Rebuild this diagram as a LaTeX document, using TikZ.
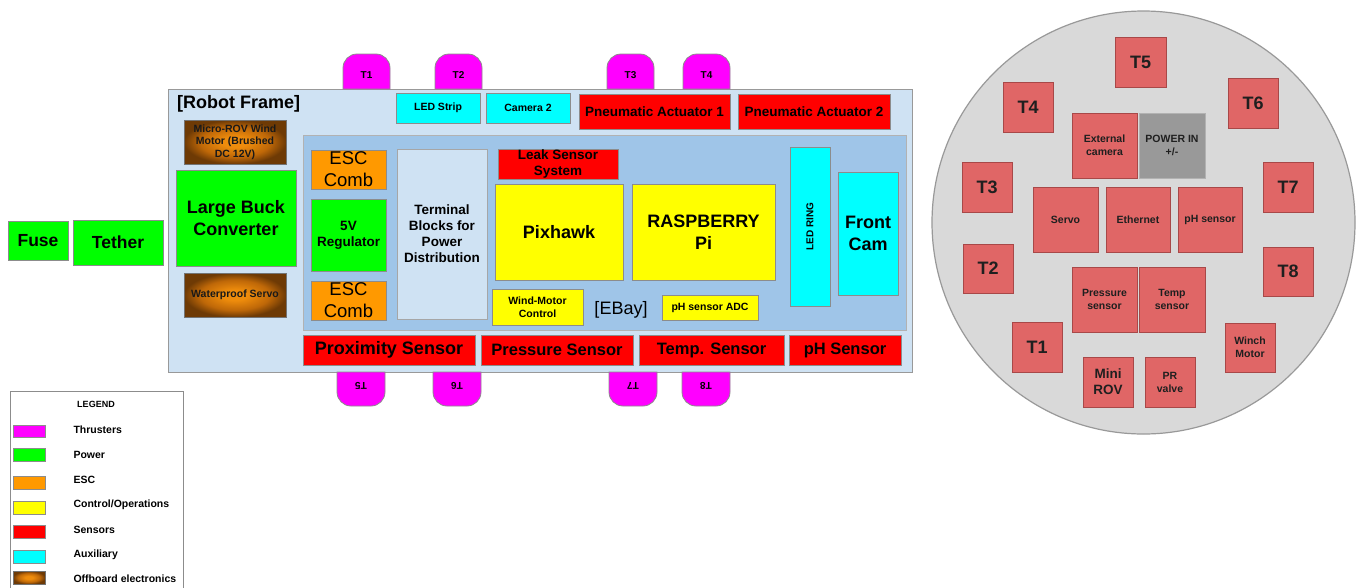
\documentclass[tikz,border=0pt]{standalone}
\usepackage{fontspec}
\setmainfont{Liberation Sans}
\usetikzlibrary{calc}
\definecolor{thrC}{HTML}{FF00FF}
\definecolor{powC}{HTML}{00FF00}
\definecolor{escC}{HTML}{FF9900}
\definecolor{ctlC}{HTML}{FFFF00}
\definecolor{senC}{HTML}{FF0000}
\definecolor{auxC}{HTML}{00FFFF}
\definecolor{frameC}{HTML}{CFE2F3}
\definecolor{ebayC}{HTML}{9FC5E8}
\definecolor{circC}{HTML}{D9D9D9}
\definecolor{sqC}{HTML}{E06666}
\definecolor{sqB}{HTML}{A84848}
\definecolor{pwrinC}{HTML}{999999}
\definecolor{brIn}{HTML}{EE8C0C}
\definecolor{brMid}{HTML}{BF6808}
\definecolor{brOut}{HTML}{6E3A05}
\pgfdeclareradialshading{offboard}{\pgfpoint{0bp}{0bp}}{color(0bp)=(brIn); color(6bp)=(brIn); color(17bp)=(brMid); color(25bp)=(brOut); color(50bp)=(brOut)}
\newcommand\myfs[2]{\fontsize{#1}{#2}\selectfont}
\newcommand\mybox[7]{%
  \pgfmathsetmacro\mybw{#4-#2}\pgfmathsetmacro\mybh{#5-#3}%
  \node[#6,minimum width=\mybw pt,minimum height=\mybh pt,anchor=north west] (#1) at (#2,#3) {#7};}
\tikzset{
  base/.style={draw=black!45, line width=0.8pt, inner sep=0pt, outer sep=0pt, align=center, font=\bfseries},
  pow/.style={base, fill=powC},
  esc/.style={base, fill=escC},
  ctl/.style={base, fill=ctlC},
  sen/.style={base, fill=senC},
  aux/.style={base, fill=auxC},
  offb/.style={base, shading=offboard, draw=black!55, text=black!90},
  thr/.style={draw=black!45, line width=0.8pt, fill=thrC},
  sq/.style={base, fill=sqC, draw=sqB, text=black!88},
  fA/.style={font=\bfseries\myfs{18}{21.5}},
  fB/.style={font=\bfseries\myfs{16.5}{20}},
  fC/.style={font=\bfseries\myfs{13.5}{16}},
  fD/.style={font=\bfseries\myfs{10.5}{13}},
  fT/.style={font=\bfseries\myfs{10}{12}},
  fR/.style={font=\myfs{18.5}{22}},
  lgtext/.style={anchor=west, font=\bfseries\myfs{10.5}{12}},
}
\begin{document}
\begin{tikzpicture}[x=1pt,y=-1pt]
\useasboundingbox (0,0) rectangle (1356,587);
\clip (0,0) rectangle (1356,587);
\fill[white] (0,0) rectangle (1356,587);

% ---------- Robot frame ----------
\mybox{frame}{168}{89}{912}{372}{base,fill=frameC,draw=black!40}{}
\node[anchor=west, font=\bfseries\myfs{18}{21}, inner sep=0pt] (frametitle) at (177,104) {[Robot Frame]};

% thrusters top
\path[thr] (343,89) -- (343,68) arc[start angle=180,end angle=90,radius=14pt] -- (376,54) arc[start angle=90,end angle=0,radius=14pt] -- (390,89) -- cycle;
\node[fT] (t1) at (366.5,75) {T1};
\path[thr] (435,89) -- (435,68) arc[start angle=180,end angle=90,radius=14pt] -- (468,54) arc[start angle=90,end angle=0,radius=14pt] -- (482,89) -- cycle;
\node[fT] (t2) at (458.5,75) {T2};
\path[thr] (607,89) -- (607,68) arc[start angle=180,end angle=90,radius=14pt] -- (640,54) arc[start angle=90,end angle=0,radius=14pt] -- (654,89) -- cycle;
\node[fT] (t3) at (630.5,75) {T3};
\path[thr] (683,89) -- (683,68) arc[start angle=180,end angle=90,radius=14pt] -- (716,54) arc[start angle=90,end angle=0,radius=14pt] -- (730,89) -- cycle;
\node[fT] (t4) at (706.5,75) {T4};

% thrusters bottom
\path[thr] (337,372) -- (337,392) arc[start angle=180,end angle=270,radius=14pt] -- (371,406) arc[start angle=270,end angle=360,radius=14pt] -- (385,372) -- cycle;
\node[fT,rotate=180] (t5) at (361,386) {T5};
\path[thr] (433,372) -- (433,392) arc[start angle=180,end angle=270,radius=14pt] -- (467,406) arc[start angle=270,end angle=360,radius=14pt] -- (481,372) -- cycle;
\node[fT,rotate=180] (t6) at (457,386) {T6};
\path[thr] (609,372) -- (609,392) arc[start angle=180,end angle=270,radius=14pt] -- (643,406) arc[start angle=270,end angle=360,radius=14pt] -- (657,372) -- cycle;
\node[fT,rotate=180] (t7) at (633,386) {T7};
\path[thr] (682,372) -- (682,392) arc[start angle=180,end angle=270,radius=14pt] -- (716,406) arc[start angle=270,end angle=360,radius=14pt] -- (730,372) -- cycle;
\node[fT,rotate=180] (t8) at (706,386) {T8};

% left column
\mybox{micro}{184}{120}{286}{164}{offb,font=\bfseries\myfs{10.5}{12.5}}{Micro-ROV Wind\\Motor (Brushed\\DC 12V)}
\mybox{buck}{176}{170}{296}{266}{pow,fA}{Large Buck\\Converter}
\mybox{wservo}{184}{273}{286}{317}{offb,fD}{Waterproof Servo}
\mybox{fuse}{8}{221}{68}{260}{pow,font=\bfseries\myfs{17.5}{20}}{Fuse}
\mybox{tether}{73}{220}{163}{265}{pow,font=\bfseries\myfs{17.5}{20}}{Tether}

% top row
\mybox{ledstrip}{396}{93}{480}{123}{aux,fD}{LED Strip}
\mybox{cam2}{486}{93}{570}{123}{aux,fD}{Camera 2}
\mybox{pa1}{579}{94}{730}{129}{sen,fC}{Pneumatic Actuator 1}
\mybox{pa2}{738}{94}{890}{129}{sen,fC}{Pneumatic Actuator 2}

% EBay
\mybox{ebay}{303}{135}{906}{330}{base,fill=ebayC,draw=black!30}{}
\mybox{escA}{311}{150}{386}{189}{esc,fR}{ESC\\Comb}
\mybox{reg}{311}{199}{386}{271}{pow,fC}{5V\\Regulator}
\mybox{escB}{311}{281}{386}{320}{esc,fR}{ESC\\Comb}
\mybox{term}{397}{149}{487}{319}{base,fill=frameC,draw=black!35,fC}{Terminal\\Blocks for\\Power\\Distribution}
\mybox{leak}{498}{149}{618}{179}{sen,fC}{Leak Sensor\\System}
\mybox{pix}{495}{184}{623}{280}{ctl,fA}{Pixhawk}
\mybox{rpi}{632}{184}{775}{280}{ctl,fA}{RASPBERRY\\Pi}
\mybox{wmc}{492}{289}{583}{325}{ctl,fD}{Wind-Motor\\Control}
\node[font=\myfs{18}{20}, inner sep=0pt] (ebaylabel) at (621,310) {[EBay]};
\mybox{phadc}{662}{295}{758}{320}{ctl,fD}{pH sensor ADC}
\mybox{ledring}{790}{147}{830}{306}{aux}{}
\node[fT,rotate=90] (ledringlabel) at (ledring.center) {LED RING};
\mybox{frontcam}{838}{172}{898}{295}{aux,fA}{Front\\Cam}

% bottom sensors
\mybox{prox}{303}{335}{475}{365}{sen,fA}{Proximity Sensor}
\mybox{pres}{481}{335}{633}{365}{sen,fB}{Pressure Sensor}
\mybox{temp}{639}{335}{784}{365}{sen,fB}{Temp. Sensor}
\mybox{ph}{789}{335}{901}{365}{sen,fB}{pH Sensor}

% ---------- Legend ----------
\mybox{legend}{10}{391}{183}{600}{base,fill=white,draw=black!45}{}
\node[font=\bfseries\myfs{9}{11}] (legendtitle) at (96,404) {LEGEND};
\mybox{lgA}{13}{425}{45}{437}{base,fill=thrC}{}
\node[lgtext] (lgAt) at (70,430) {Thrusters};
\mybox{lgB}{13}{448}{45}{461}{base,fill=powC}{}
\node[lgtext] (lgBt) at (70,454.5) {Power};
\mybox{lgC}{13}{476}{45}{489}{base,fill=escC}{}
\node[lgtext] (lgCt) at (70,479.5) {ESC};
\mybox{lgD}{13}{501}{45}{514}{base,fill=ctlC}{}
\node[lgtext] (lgDt) at (70,504.5) {Control/Operations};
\mybox{lgE}{13}{525}{45}{538}{base,fill=senC}{}
\node[lgtext] (lgEt) at (70,530) {Sensors};
\mybox{lgF}{13}{550}{45}{563}{base,fill=auxC}{}
\node[lgtext] (lgFt) at (70,554.5) {Auxiliary};
\mybox{lgG}{13}{571}{45}{584}{offb}{}
\node[lgtext] (lgGt) at (70,579) {Offboard electronics};

% ---------- End cap (circle) ----------
\node[circle, draw=black!40, fill=circC, line width=1.2pt, minimum size=423pt, inner sep=0pt] (board) at (1143.5,222.5) {};
\mybox{c5}{1115}{37}{1166}{87}{sq,fA}{T5}
\mybox{c4}{1003}{82}{1053}{132}{sq,fA}{T4}
\mybox{c6}{1228}{78}{1278}{128}{sq,fA}{T6}
\mybox{extcam}{1072}{113}{1137}{178}{sq,fD}{External\\camera}
\mybox{pwrin}{1139}{113}{1205}{178}{base,fill=pwrinC,draw=black!30,text=black!88,fD}{POWER IN\\+/-}
\mybox{c3}{962}{162}{1012}{212}{sq,fA}{T3}
\mybox{c7}{1263}{162}{1313}{212}{sq,fA}{T7}
\mybox{servo}{1033}{187}{1098}{252}{sq,fD}{Servo}
\mybox{eth}{1106}{187}{1170}{252}{sq,fD}{Ethernet}
\mybox{phs}{1178}{187}{1242}{252}{sq,fD}{pH sensor}
\mybox{c2}{963}{244}{1013}{293}{sq,fA}{T2}
\mybox{c8}{1263}{247}{1313}{296}{sq,fA}{T8}
\mybox{pressc}{1072}{267}{1137}{332}{sq,fD}{Pressure\\sensor}
\mybox{tempc}{1139}{267}{1205}{332}{sq,fD}{Temp\\sensor}
\mybox{c1}{1012}{322}{1062}{372}{sq,fA}{T1}
\mybox{winch}{1225}{323}{1275}{372}{sq,fD}{Winch\\Motor}
\mybox{minirov}{1083}{357}{1133}{407}{sq,fC}{Mini\\ROV}
\mybox{prv}{1145}{357}{1195}{407}{sq,fD}{PR\\valve}
\end{tikzpicture}
\end{document}
